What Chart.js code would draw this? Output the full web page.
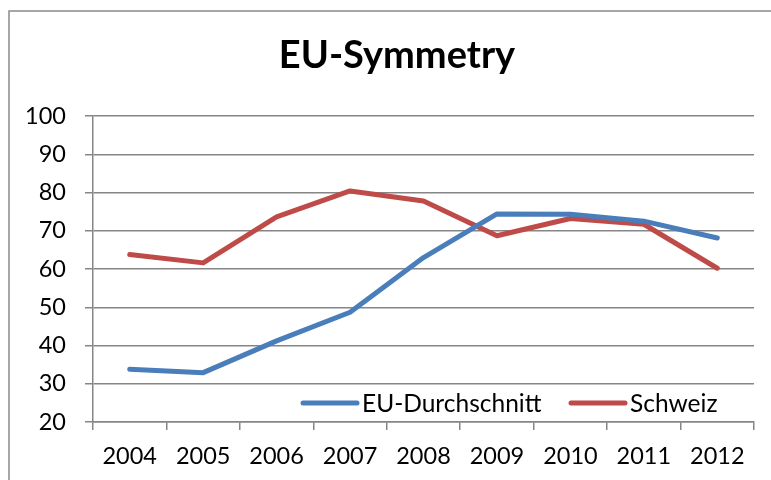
<!DOCTYPE html>
<html><head><meta charset="utf-8">
<script src="https://cdn.jsdelivr.net/npm/chart.js@4/dist/chart.umd.min.js"></script>
<style>html,body{margin:0;padding:0;background:#fff}#wrap{width:771px;height:480px;position:relative}</style>
</head><body><div id="wrap"><canvas id="c"></canvas></div>
<script>
const chartTitle = 'EU-Symmetry';
const years = ['2004', '2005', '2006', '2007', '2008', '2009', '2010', '2011', '2012'];
const seriesNames = ['EU-Durchschnitt', 'Schweiz'];
const euAverage = [33.8, 32.9, 41.2, 48.7, 63.0, 74.4, 74.3, 72.5, 68.1];
const switzerland = [63.8, 61.6, 73.6, 80.4, 77.8, 68.7, 73.2, 71.7, 60.2];
const yTicks = [20, 30, 40, 50, 60, 70, 80, 90, 100];

const FONT = 'Lato';
const GRID = '#868686';

const decor = {
  id: 'decor',
  beforeDraw(chart) {
    const ctx = chart.ctx;
    ctx.save();
    ctx.strokeStyle = '#8a8a8a';
    ctx.lineWidth = 1.5;
    ctx.strokeRect(9, 11, 900, 600);
    ctx.restore();
  },
  afterDraw(chart) {
    const ctx = chart.ctx;
    ctx.save();
    ctx.fillStyle = '#000';
    ctx.font = 'bold 38px ' + FONT;
    ctx.textAlign = 'center';
    ctx.textBaseline = 'alphabetic';
    ctx.fillText(chartTitle, 397, 68);
    // legend
    const xs = [303, 571];
    const y = 403;
    chart.data.datasets.forEach((ds, i) => {
      ctx.strokeStyle = ds.borderColor;
      ctx.lineWidth = 5;
      ctx.lineCap = 'round';
      ctx.beginPath();
      ctx.moveTo(xs[i], y);
      ctx.lineTo(xs[i] + 54, y);
      ctx.stroke();
      ctx.fillStyle = '#000';
      ctx.font = '24.5px ' + FONT;
      ctx.textAlign = 'left';
      ctx.textBaseline = 'middle';
      ctx.fillText(ds.label, xs[i] + 59, y + 1);
    });
    ctx.restore();
  }
};

new Chart(document.getElementById('c'), {
  type: 'line',
  data: {
    labels: years,
    datasets: [
      { label: seriesNames[0], data: euAverage, borderColor: '#4A7EBB', borderWidth: 5, pointRadius: 0, borderCapStyle: 'round', borderJoinStyle: 'round', tension: 0 },
      { label: seriesNames[1], data: switzerland, borderColor: '#BE4B48', borderWidth: 5, pointRadius: 0, borderCapStyle: 'round', borderJoinStyle: 'round', tension: 0 }
    ]
  },
  options: {
    responsive: true,
    maintainAspectRatio: false,
    animation: false,
    devicePixelRatio: 1,
    layout: { padding: { left: 0, right: 17, top: 116, bottom: 0 } },
    plugins: { legend: { display: false }, title: { display: false }, tooltip: { enabled: false } },
    scales: {
      x: {
        offset: true,
        grid: { display: true, drawOnChartArea: false, drawTicks: true, tickLength: 8, offset: true, color: GRID, lineWidth: 1.5 },
        border: { display: true, color: GRID, width: 1.5 },
        ticks: { color: '#000', font: { family: FONT, size: 23.5 }, padding: 12, maxRotation: 0, autoSkip: false },
        afterFit(s) { s.height = 58; }
      },
      y: {
        min: 20, max: 100,
        afterBuildTicks(s) { s.ticks = yTicks.map(v => ({ value: v })); },
        grid: { color: GRID, lineWidth: 1.5, tickLength: 8 },
        border: { display: true, color: GRID, width: 1.5 },
        ticks: { color: '#000', font: { family: FONT, size: 23.5 }, padding: 19 },
        afterFit(s) { s.width = 93; }
      }
    }
  },
  plugins: [decor]
});
</script></body></html>
